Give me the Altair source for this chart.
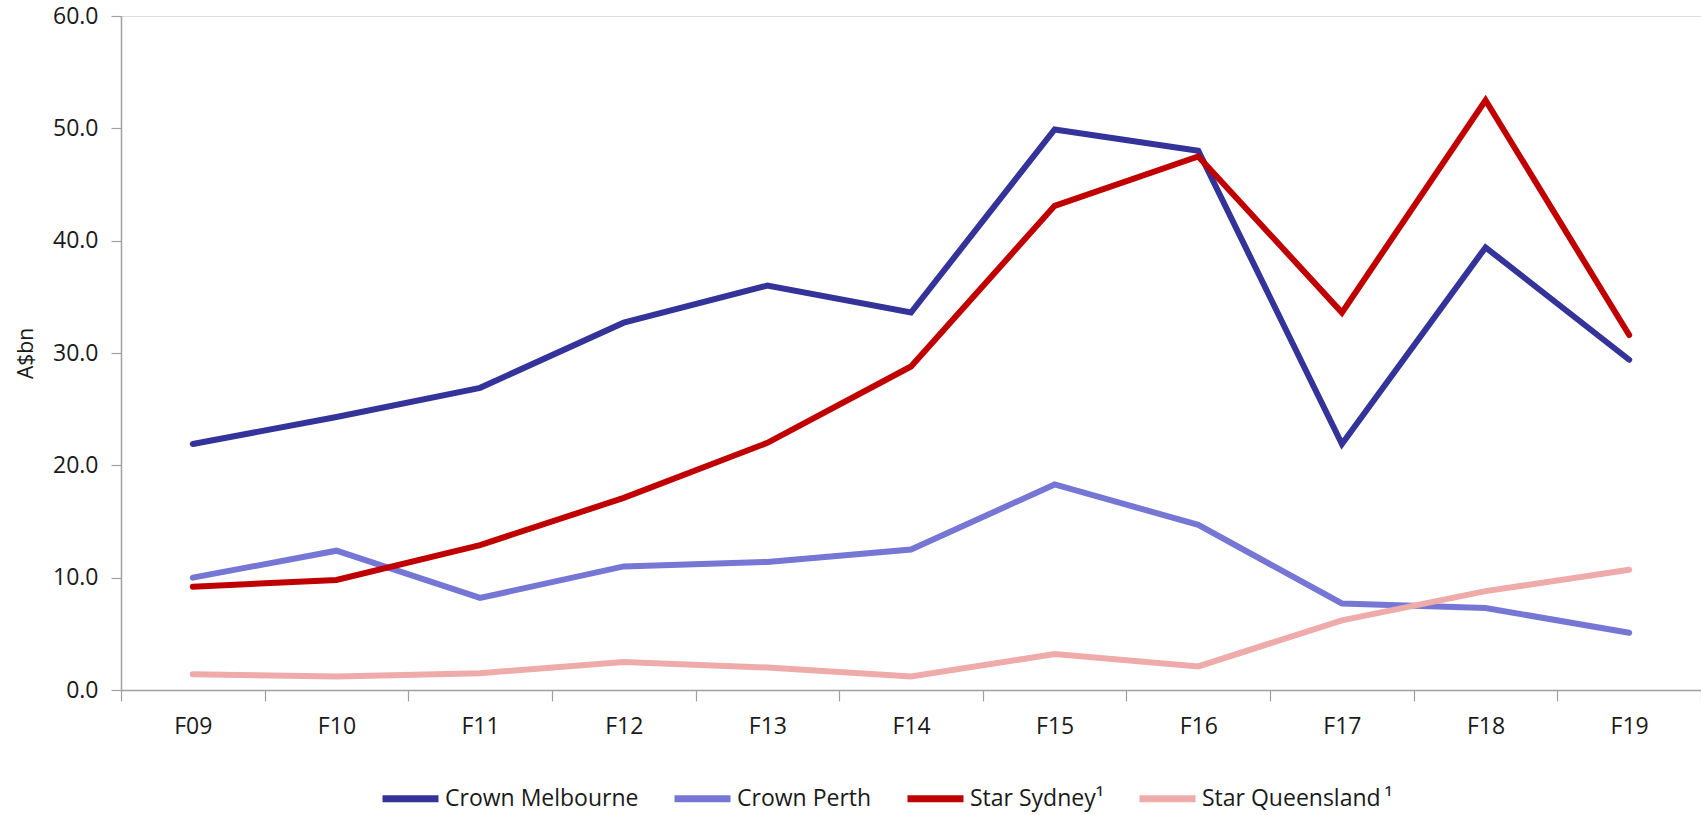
import altair as alt
import pandas as pd

years = ["F09", "F10", "F11", "F12", "F13", "F14", "F15", "F16", "F17", "F18", "F19"]
series_names = ["Crown Melbourne", "Crown Perth", "Star Sydney\u00b9", "Star Queensland\u2009\u00b9"]
crown_melbourne = [21.9, 24.3, 26.9, 32.7, 36.0, 33.6, 49.9, 48.0, 21.9, 39.4, 29.4]
crown_perth = [10.0, 12.4, 8.2, 11.0, 11.4, 12.5, 18.3, 14.7, 7.7, 7.3, 5.1]
star_sydney = [9.2, 9.8, 12.9, 17.1, 22.0, 28.8, 43.1, 47.5, 33.6, 52.5, 31.6]
star_queensland = [1.4, 1.2, 1.5, 2.5, 2.0, 1.2, 3.2, 2.1, 6.2, 8.8, 10.7]
colors = ["#333399", "#7676D5", "#C00000", "#EFAAAA"]

rows = []
for name, vals in zip(series_names, [crown_melbourne, crown_perth, star_sydney, star_queensland]):
    for y, v in zip(years, vals):
        rows.append({"Year": y, "Series": name, "Value": v})
df = pd.DataFrame(rows)

FONT = "Open Sans"
TXT = "#1a1a1a"
AX = "#a0a0a0"

chart = alt.Chart(df).mark_line(strokeWidth=6, strokeCap="round", strokeJoin="miter").encode(
    x=alt.X("Year:N", sort=years,
            scale=alt.Scale(type="band", paddingInner=0, paddingOuter=0),
            axis=alt.Axis(title=None, labelAngle=0, tickBand="extent", tickSize=11,
                          tickColor=AX, domainColor=AX, domainWidth=1.5, tickWidth=1.2,
                          labelFont=FONT, labelFontSize=23, labelColor=TXT, labelPadding=14,
                          grid=False)),
    y=alt.Y("Value:Q",
            scale=alt.Scale(domain=[0, 60], nice=False, zero=True),
            axis=alt.Axis(title="A$bn", values=[0, 10, 20, 30, 40, 50, 60], format=".1f",
                          tickSize=10, tickColor=AX, domainColor=AX, domainWidth=1.5, tickWidth=1.2,
                          labelFont=FONT, labelFontSize=23, labelColor=TXT, labelPadding=13,
                          titleFont=FONT, titleFontSize=21, titleFontWeight="normal", titleColor=TXT,
                          titleX=-95, titleY=337, titleAlign="center", titleBaseline="middle",
                          grid=False)),
    color=alt.Color("Series:N", sort=series_names,
                    scale=alt.Scale(domain=series_names, range=colors),
                    legend=alt.Legend(title=None, orient="none", legendX=258, legendY=751,
                                      direction="horizontal", columns=4, columnPadding=21,
                                      symbolType="stroke", symbolSize=3136, symbolStrokeWidth=7,
                                      labelFont=FONT, labelFontSize=23, labelColor=TXT,
                                      labelOffset=3, labelLimit=400)),
    order=alt.Order("Year:N"),
).properties(
    width=1580,
    height=674,
    autosize=alt.AutoSizeParams(type="none"),
    padding={"left": 121, "top": 16, "right": 0, "bottom": 125},
).configure_view(stroke=None).configure(background="white")

chart.save("out.html", embed_options={"renderer": "svg", "actions": False})
